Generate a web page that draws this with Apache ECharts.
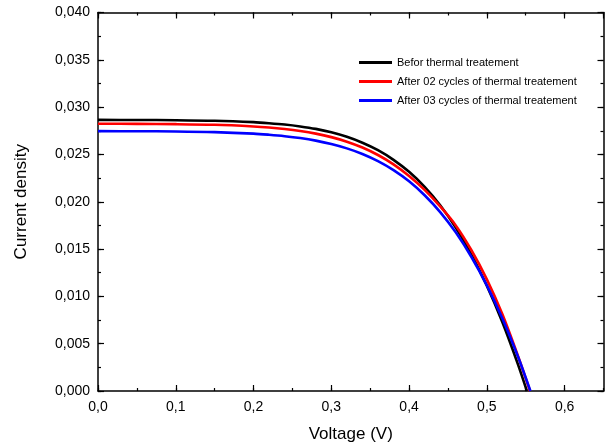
<!DOCTYPE html>
<html>
<head>
<meta charset="utf-8">
<script src="https://cdn.jsdelivr.net/npm/echarts@6/dist/echarts.min.js"></script>
<style>html,body{margin:0;padding:0;background:#fff}#c{width:609px;height:448px}</style>
</head>
<body>
<div id="c"></div>
<script>
var voltage = [0, 0.05, 0.10, 0.15, 0.20, 0.22, 0.24, 0.26, 0.28, 0.30, 0.32, 0.34, 0.36, 0.38, 0.40, 0.42, 0.44, 0.46, 0.48, 0.50, 0.52, 0.54];
var seriesNames = ['Befor thermal treatement', 'After 02 cycles of thermal treatement', 'After 03 cycles of thermal treatement'];
var vocBefore = 0.5515, vocAfter02 = 0.5555, vocAfter03 = 0.556;
var jBefore  = [0.02865, 0.02864, 0.02862, 0.02856, 0.02841, 0.02830, 0.02816, 0.02796, 0.02770, 0.02734, 0.02686, 0.02624, 0.02545, 0.02443, 0.02316, 0.02157, 0.01963, 0.01727, 0.01445, 0.01113, 0.00726, 0.00282];
var jAfter02 = [0.02824, 0.02823, 0.02820, 0.02813, 0.02796, 0.02785, 0.02769, 0.02748, 0.02720, 0.02683, 0.02635, 0.02573, 0.02494, 0.02395, 0.02272, 0.02125, 0.01950, 0.01750, 0.01490, 0.01180, 0.00810, 0.00370];
var jAfter03 = [0.02746, 0.02745, 0.02743, 0.02736, 0.02720, 0.02708, 0.02693, 0.02673, 0.02646, 0.02610, 0.02564, 0.02505, 0.02429, 0.02334, 0.02216, 0.02069, 0.01891, 0.01677, 0.01419, 0.01117, 0.00766, 0.00364];
var colors = ['#000000', '#ff0000', '#0000ff'];

function pairs(js, voc) {
  var d = voltage.map(function (v, i) { return [v, js[i]]; });
  d.push([voc, 0]);
  return d;
}
var fmtY = function (v) { return v.toFixed(3).replace('.', ','); };
var fmtX = function (v) { return v.toFixed(1).replace('.', ','); };
var FONT = 'Liberation Sans, Arial, sans-serif';
var lineStyle = { color: '#000', width: 1.5 };

function xAx(pos, interval, len, labels, line) {
  return {
    type: 'value', position: pos, min: 0, max: 0.65, interval: interval,
    axisLine: { show: line, lineStyle: lineStyle, onZero: false },
    axisTick: { show: true, inside: true, length: len, lineStyle: { color: '#000', width: 1.2 } },
    axisLabel: { show: labels, formatter: fmtX, color: '#000', fontFamily: FONT, fontSize: 14, margin: 9, showMaxLabel: false },
    splitLine: { show: false },
    name: labels ? 'Voltage (V)' : '', nameLocation: 'middle', nameGap: 35,
    nameTextStyle: { color: '#000', fontFamily: FONT, fontSize: 17 }
  };
}
function yAx(pos, interval, len, labels, line) {
  return {
    type: 'value', position: pos, min: 0, max: 0.04, interval: interval,
    axisLine: { show: line, lineStyle: lineStyle, onZero: false },
    axisTick: { show: true, inside: true, length: len, lineStyle: { color: '#000', width: 1.2 } },
    axisLabel: { show: labels, formatter: fmtY, color: '#000', fontFamily: FONT, fontSize: 14, margin: 8 },
    splitLine: { show: false },
    name: labels ? 'Current density' : '', nameLocation: 'middle', nameGap: 68,
    nameTextStyle: { color: '#000', fontFamily: FONT, fontSize: 17 }
  };
}

var chart = echarts.init(document.getElementById('c'), null, { renderer: 'canvas' });
chart.setOption({
  backgroundColor: '#fff',
  animation: false,
  grid: { left: 98, right: 5.5, top: 12.5, bottom: 56, containLabel: false },
  legend: {
    left: 359, top: 57, padding: 0, orient: 'vertical', icon: 'rect', itemWidth: 33, itemHeight: 3, itemGap: 8,
    textStyle: { fontFamily: FONT, fontSize: 11, color: '#000' },
    data: seriesNames
  },
  xAxis: [
    xAx('bottom', 0.1, 6, true, true),
    xAx('bottom', 0.05, 3, false, false),
    xAx('top', 0.1, 6, false, true),
    xAx('top', 0.05, 3, false, false)
  ],
  yAxis: [
    yAx('left', 0.005, 6, true, true),
    yAx('left', 0.0025, 3, false, false),
    yAx('right', 0.005, 6, false, true),
    yAx('right', 0.0025, 3, false, false)
  ],
  series: [
    { name: seriesNames[0], type: 'line', data: pairs(jBefore, vocBefore) },
    { name: seriesNames[1], type: 'line', data: pairs(jAfter02, vocAfter02) },
    { name: seriesNames[2], type: 'line', data: pairs(jAfter03, vocAfter03) }
  ].map(function (s, i) {
    s.showSymbol = false; s.symbol = 'none'; s.smooth = 0.3;
    s.color = colors[i];
    s.lineStyle = { color: colors[i], width: 2.6 };
    s.xAxisIndex = 0; s.yAxisIndex = 0;
    return s;
  })
});
</script>
</body>
</html>
